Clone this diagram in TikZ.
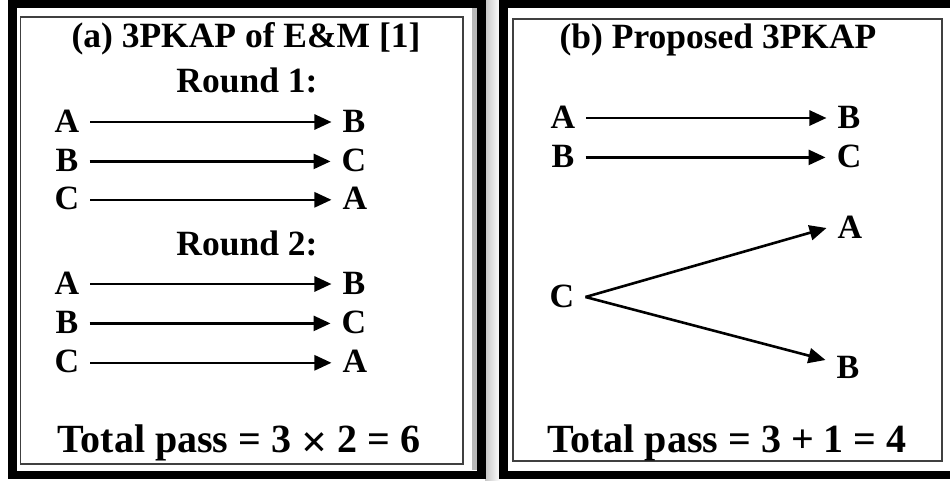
\documentclass[tikz,border=0pt]{standalone}
\usepackage{fontspec}
\setmainfont{Liberation Serif}
\usetikzlibrary{positioning,arrows.meta}

\newcommand{\ltrfont}{\fontsize{34}{36}\selectfont\bfseries}
\newcommand{\headfont}{\fontsize{35.5}{38}\selectfont\bfseries}
\newcommand{\sumfont}{\fontsize{40}{42}\selectfont\bfseries}
\newcommand{\bigtimes}{\raisebox{-5pt}{\fontsize{46}{42}\selectfont ×}}

\tikzset{
  ltr/.style={font=\ltrfont, inner xsep=11pt, inner ysep=0pt, text height=20pt, text depth=0pt},
  head/.style={font=\headfont, inner sep=0pt},
  sumline/.style={font=\sumfont, inner sep=0pt},
  pass/.style={-{Triangle[length=17pt,width=15pt]}, line width=2.6pt},
  frame/.style={line width=8.5pt},
  panel/.style={draw=black!75, line width=1.5pt},
}

\begin{document}
\begin{tikzpicture}[x=1pt, y=-1pt]
    \useasboundingbox (0,0) rectangle (950,480);

    % frames
    \fill[gray!55] (472,8) rectangle (478,470);
    \shade[left color=gray!45, right color=white] (485,0) rectangle (500,480);
    \draw[frame] (12.5,4) rectangle (481.5,475);
    \draw[frame] (503.5,4) rectangle (965,475);
    \draw[panel] (20.5,17) rectangle (463,464);
    \draw[panel] (513,19) rectangle (942,461);

    % (a)
    \node[head] (ttla) at (246,39) {(a) 3PKAP of E\&M [1]};
    \node[head] (rnd1) at (247,80) {Round 1:};

    \node[ltr] (a1) at (67,122) {A};
    \node[ltr, right=241pt of a1] (b1) {B};
    \node[ltr, below=19pt of a1] (a2) {B};
    \node[ltr, right=241pt of a2] (b2) {C};
    \node[ltr, below=18pt of a2] (a3) {C};
    \node[ltr, right=241pt of a3] (b3) {A};

    \node[head] (rnd2) at (247,243) {Round 2:};

    \node[ltr] (a4) at (67,284) {A};
    \node[ltr, right=241pt of a4] (b4) {B};
    \node[ltr, below=19pt of a4] (a5) {B};
    \node[ltr, right=241pt of a5] (b5) {C};
    \node[ltr, below=19pt of a5] (a6) {C};
    \node[ltr, right=241pt of a6] (b6) {A};

    \draw[pass] (a1) -- (b1);
    \draw[pass] (a2) -- (b2);
    \draw[pass] (a3) -- (b3);
    \draw[pass] (a4) -- (b4);
    \draw[pass] (a5) -- (b5);
    \draw[pass] (a6) -- (b6);

    \node[sumline] (tota) at (239,443) {Total pass = 3 \bigtimes\ 2 = 6};

    % (b)
    \node[head] (ttlb) at (718,40) {(b) Proposed 3PKAP};

    \node[ltr] (pa1) at (563,118) {A};
    \node[ltr, right=240pt of pa1] (pb1) {B};
    \node[ltr, below=19pt of pa1] (pa2) {B};
    \node[ltr, right=240pt of pa2] (pb2) {C};

    \node[ltr] (pc) at (562,297) {C};
    \node[ltr] (pa3) at (850,228) {A};
    \node[ltr] (pb3) at (848,368) {B};

    \draw[pass] (pa1) -- (pb1);
    \draw[pass] (pa2) -- (pb2);
    \draw[pass] (pc.east) -- (pa3.west);
    \draw[pass] (pc.east) -- ([yshift=8pt]pb3.west);

    \node[sumline] (totb) at (727,443) {Total pass = 3 + 1 = 4};
\end{tikzpicture}
\end{document}
